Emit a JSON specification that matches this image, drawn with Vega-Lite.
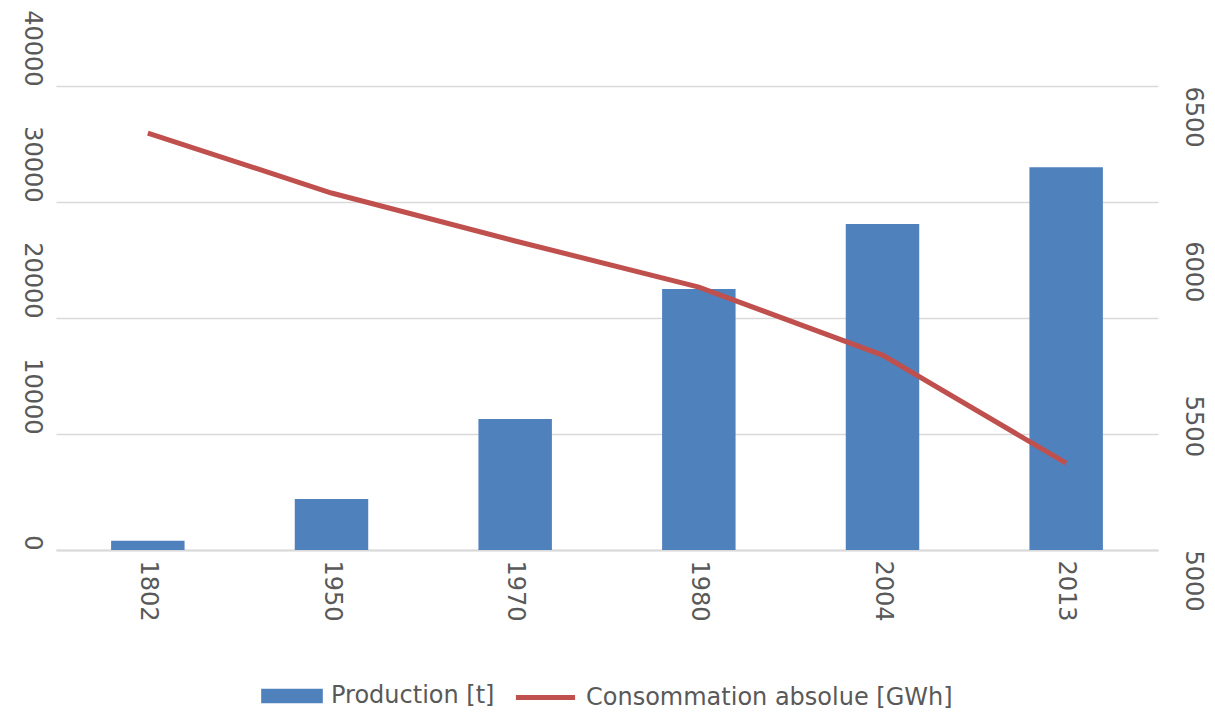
{
  "$schema": "https://vega.github.io/schema/vega-lite/v6.json",
  "width": 1102,
  "height": 464,
  "autosize": {"type": "none"},
  "padding": {"left": 56, "top": 86, "right": 57, "bottom": 162},
  "background": "white",
  "data": {
    "values": [
      {"year": "1802", "prod": 800, "cons": 6348},
      {"year": "1950", "prod": 4400, "cons": 6154},
      {"year": "1970", "prod": 11300, "cons": 5999},
      {"year": "1980", "prod": 22500, "cons": 5850},
      {"year": "2004", "prod": 28100, "cons": 5630},
      {"year": "2013", "prod": 33000, "cons": 5281}
    ]
  },
  "encoding": {
    "x": {
      "field": "year",
      "type": "nominal",
      "sort": null,
      "scale": {"paddingInner": 0.6, "paddingOuter": 0.3},
      "axis": {
        "title": null,
        "labelAngle": 90,
        "labelAlign": "left",
        "labelBaseline": "middle",
        "labelPadding": 10,
        "ticks": false,
        "domain": true,
        "domainColor": "#d9d9d9",
        "domainWidth": 2,
        "grid": false
      }
    }
  },
  "layer": [
    {
      "mark": {"type": "bar"},
      "encoding": {
        "y": {
          "field": "prod",
          "type": "quantitative",
          "scale": {"domain": [0, 40000], "nice": false},
          "axis": {
            "title": null,
            "values": [0, 10000, 20000, 30000, 40000],
            "format": "d",
            "labelAngle": 90,
            "labelAlign": "right",
            "labelBaseline": "top",
            "labelPadding": 13,
            "ticks": false,
            "domain": false,
            "grid": true,
            "gridColor": "#d9d9d9",
            "gridWidth": 1.5
          }
        },
        "fill": {
          "datum": "Production [t]",
          "type": "nominal",
          "scale": {"domain": ["Production [t]"], "range": ["#4f81bd"]},
          "legend": {
            "title": null,
            "symbolType": "M-1,-0.233H1V0.233H-1Z",
            "symbolSize": 3800,
            "symbolStrokeWidth": 0
          }
        }
      }
    },
    {
      "mark": {"type": "line", "strokeWidth": 5},
      "encoding": {
        "y": {
          "field": "cons",
          "type": "quantitative",
          "scale": {"domain": [5000, 6500], "nice": false, "zero": false},
          "axis": {
            "title": null,
            "orient": "right",
            "values": [5000, 5500, 6000, 6500],
            "format": "d",
            "labelAngle": 90,
            "labelAlign": "left",
            "labelBaseline": "bottom",
            "labelPadding": 22,
            "ticks": false,
            "domain": false,
            "grid": false
          }
        },
        "stroke": {
          "datum": "Consommation absolue [GWh]",
          "type": "nominal",
          "scale": {"domain": ["Consommation absolue [GWh]"], "range": ["#c0504d"]},
          "legend": {
            "title": null,
            "symbolType": "stroke",
            "symbolSize": 3500,
            "symbolStrokeWidth": 5
          }
        }
      }
    }
  ],
  "resolve": {"scale": {"y": "independent"}},
  "config": {
    "view": {"stroke": null},
    "font": "DejaVu Sans",
    "axis": {
      "labelFont": "DejaVu Sans",
      "labelFontSize": 24,
      "labelColor": "#595959"
    },
    "legend": {
      "orient": "bottom",
      "direction": "horizontal",
      "offset": 43,
      "labelFont": "DejaVu Sans",
      "labelFontSize": 24,
      "labelColor": "#595959",
      "labelOffset": 8,
      "labelLimit": 600,
      "layout": {"bottom": {"anchor": "middle", "direction": "horizontal", "margin": 18}}
    }
  }
}
